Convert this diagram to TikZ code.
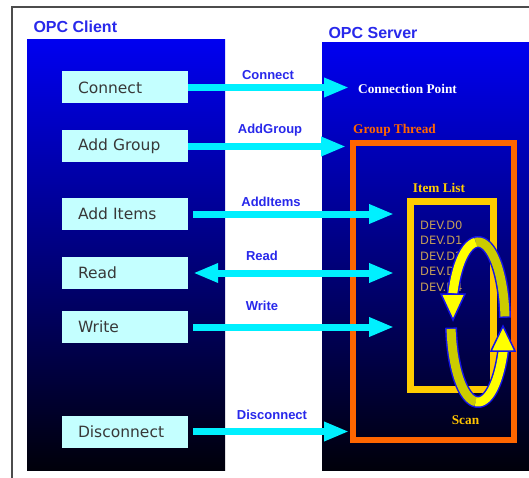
\documentclass[tikz,border=0pt]{standalone}
\usepackage{fontspec}
\setmainfont{Liberation Serif}
\setsansfont{Liberation Sans}
\newfontfamily\boxfont{DejaVu Sans}
\usetikzlibrary{arrows.meta}

\definecolor{panelblue}{RGB}{0,0,240}
\definecolor{paneldark}{RGB}{0,0,10}
\definecolor{boxcyan}{RGB}{196,255,255}
\definecolor{flowcyan}{RGB}{0,240,255}
\definecolor{labelblue}{RGB}{40,40,235}
\definecolor{threadorange}{RGB}{255,102,0}
\definecolor{listgold}{RGB}{255,204,0}
\definecolor{devtan}{RGB}{196,158,88}
\definecolor{scanyellow}{RGB}{255,255,0}
\definecolor{scankhaki}{RGB}{204,204,0}
\definecolor{scanedge}{RGB}{20,20,230}

\begin{document}
\begin{tikzpicture}[x=1pt,y=-1pt,
    call/.style={fill=boxcyan, minimum width=126pt, minimum height=32pt,
      inner xsep=16pt, inner ysep=0pt, text width=94pt, align=left,
      text=black!78, font=\boxfont\fontsize{15.5}{18}\selectfont},
    flow/.style={draw=flowcyan, line width=7pt, -{Triangle[length=25pt,width=18pt]}},
    both/.style={flow, {Triangle[length=25pt,width=18pt]}-{Triangle[length=25pt,width=18pt]}},
    msg/.style={text=labelblue, font=\sffamily\bfseries\fontsize{13}{15}\selectfont},
    side/.style={anchor=west, text=labelblue, font=\sffamily\bfseries\fontsize{16}{18}\selectfont},
    tag/.style={font=\rmfamily\bfseries\fontsize{13.3}{15}\selectfont},
    dev/.style={anchor=west, text=devtan, inner sep=0pt, font=\boxfont\fontsize{11.5}{13}\selectfont}]
  \fill[white] (0,0) rectangle (529,478);
  \useasboundingbox (0,0) rectangle (529,478);
  % Frame and the two panels
  \draw[line width=1.5pt, black!70] (12,478) -- (12,7) -- (529,7);
  \shade[top color=panelblue, bottom color=paneldark] (27,40) rectangle (225,470);
  \shade[top color=panelblue, bottom color=paneldark] (322,43) rectangle (529,470);
  \node[side] (client) at (30,27) {OPC Client};
  \node[side] (server) at (325,33) {OPC Server};
  % Client calls
  \node[call] (connect)    at (125,87.5)  {Connect};
  \node[call] (addgroup)   at (125,146.5) {Add Group};
  \node[call] (additems)   at (125,214)   {Add Items};
  \node[call] (read)       at (125,273)   {Read};
  \node[call] (write)      at (125,327)   {Write};
  \node[call] (disconnect) at (125,431.5) {Disconnect};
  % Server side
  \node[tag, anchor=west, text=white, inner sep=2pt] (cpt) at (356,89) {Connection Point};
  \node[draw=threadorange, line width=6pt, minimum width=161pt, minimum height=297pt,
    inner sep=0pt] (thread) at (433.5,291.5) {};
  \node[tag, anchor=west, text=threadorange, inner sep=0pt] (threadlabel) at (353,130) {Group Thread};
  \node[draw=listgold, line width=7pt, minimum width=83pt, minimum height=188pt,
    inner sep=0pt] (items) at (452,295.5) {};
  \node[tag, text=listgold, inner sep=0pt] (itemslabel) at (439,188) {Item List};
  \foreach \i in {0,...,4}
    \node[dev] (dev\i) at (420,{225+15.5*\i}) {DEV.D\i};
  % Calls going over
  \draw[flow, shorten >=7pt] (connect.east) -- (connect.east -| cpt.west);
  \draw[flow, shorten >=4pt] (addgroup.east) -- (addgroup.east -| thread.west);
  \draw[flow, shorten <=5pt, shorten >=13pt] (additems.east) -- (additems.east -| items.west);
  \draw[both, shorten <=5pt, shorten >=13pt] (read.east) -- (read.east -| items.west);
  \draw[flow, shorten <=5pt, shorten >=13pt] (write.east) -- (write.east -| items.west);
  \draw[flow, shorten <=5pt, shorten >=1pt] (disconnect.east) -- (disconnect.east -| thread.west);
  \node[msg] at (268,75)  {Connect};
  \node[msg] at (270,130) {AddGroup};
  \node[msg] at (271,202) {AddItems};
  \node[msg] at (262,256) {Read};
  \node[msg] at (262,306) {Write};
  \node[msg] at (272,415) {Disconnect};
  % Scan loop
  \draw[scanedge, line width=12pt] plot[domain=3:160, samples=60] ({478+27*cos(\x)},{322-80*sin(\x)});
  \draw[scanedge, line width=12pt] plot[domain=184:340, samples=60] ({478+27*cos(\x)},{322-80*sin(\x)});
  \draw[scankhaki, line width=9pt] plot[domain=4:95, samples=40] ({478+27*cos(\x)},{322-80*sin(\x)});
  \draw[scanyellow, line width=9pt] plot[domain=95:159, samples=40] ({478+27*cos(\x)},{322-80*sin(\x)});
  \draw[scankhaki, line width=9pt] plot[domain=185:265, samples=40] ({478+27*cos(\x)},{322-80*sin(\x)});
  \draw[scanyellow, line width=9pt] plot[domain=265:339, samples=40] ({478+27*cos(\x)},{322-80*sin(\x)});
  \filldraw[fill=scanyellow, draw=scanedge, line width=1.5pt] (441,294) -- (465,294) -- (453,320) -- cycle;
  \filldraw[fill=scanyellow, draw=scanedge, line width=1.5pt] (491,351) -- (515,351) -- (503,326) -- cycle;
  \node[tag, text=listgold!90!orange] (scan) at (465.5,420) {Scan};
\end{tikzpicture}
\end{document}
